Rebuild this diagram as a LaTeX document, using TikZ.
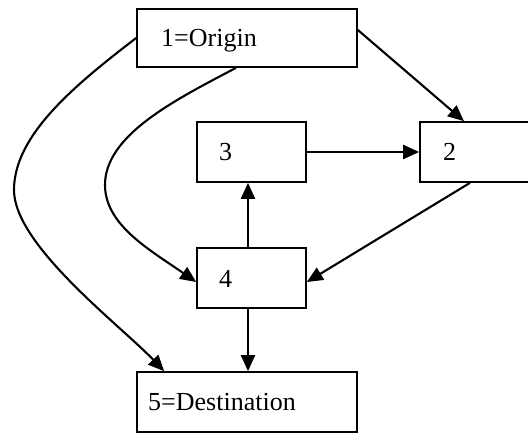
\documentclass[tikz,border=0pt]{standalone}
\usepackage{fontspec}
\setmainfont{Liberation Serif}
\usetikzlibrary{arrows.meta}
\tikzset{
  box/.style={draw, line width=1.7pt, inner sep=0pt, fill=white},
  lbl/.style={anchor=base west, inner sep=0pt, font=\fontsize{26}{30}\selectfont},
  conn/.style={line width=2.1pt, -{Triangle[length=16pt,width=14pt]}},
}
\begin{document}
\begin{tikzpicture}[x=1pt,y=-1pt]
  \useasboundingbox (0,0) rectangle (528,446);
  \clip (0,0) rectangle (528,446);

  % boxes
  \node[box, minimum width=220pt, minimum height=58pt] (n1) at (247,38) {};
  \node[box, minimum width=120pt, minimum height=60pt] (n2) at (480,152) {};
  \node[box, minimum width=109pt, minimum height=60pt] (n3) at (251.5,152) {};
  \node[box, minimum width=109pt, minimum height=60pt] (n4) at (251.5,278) {};
  \node[box, minimum width=220pt, minimum height=60pt] (n5) at (247,402) {};

  % labels
  \node[lbl] (t1) at (161,47) {1=Origin};
  \node[lbl] (t2) at (443,161) {2};
  \node[lbl] (t3) at (219,161) {3};
  \node[lbl] (t4) at (219,288) {4};
  \node[lbl] (t5) at (148,411) {5=Destination};

  % connector end points on box borders
  \coordinate (e5a) at ([xshift=28pt]n5.north west);
  \coordinate (e4s) at ([xshift=-3.5pt]n4.south);
  \coordinate (e5b) at (e4s |- n5.north);

  % straight connectors
  \draw[conn] ([yshift=8pt]n1.east) -- ([xshift=-16pt]n2.north);
  \draw[conn] (n3.east) -- (n2.west);
  \draw[conn] ([xshift=-3.5pt]n4.north) -- ([xshift=-3.5pt]n3.south);
  \draw[conn] ([xshift=-10pt]n2.south) -- ([yshift=-4pt]n4.east);
  \draw[conn] (e4s) -- (e5b);

  % curved connectors from the origin
  \draw[conn] (n1.west) .. controls (75,85) and (14,135) .. (14,190)
              .. controls (14,245) and (120,325) .. (e5a);
  \draw[conn] ([xshift=-11pt]n1.south) .. controls (175,100) and (105,135) .. (105,185)
              .. controls (105,225) and (150,250) .. ([yshift=-4pt]n4.west);
\end{tikzpicture}
\end{document}
